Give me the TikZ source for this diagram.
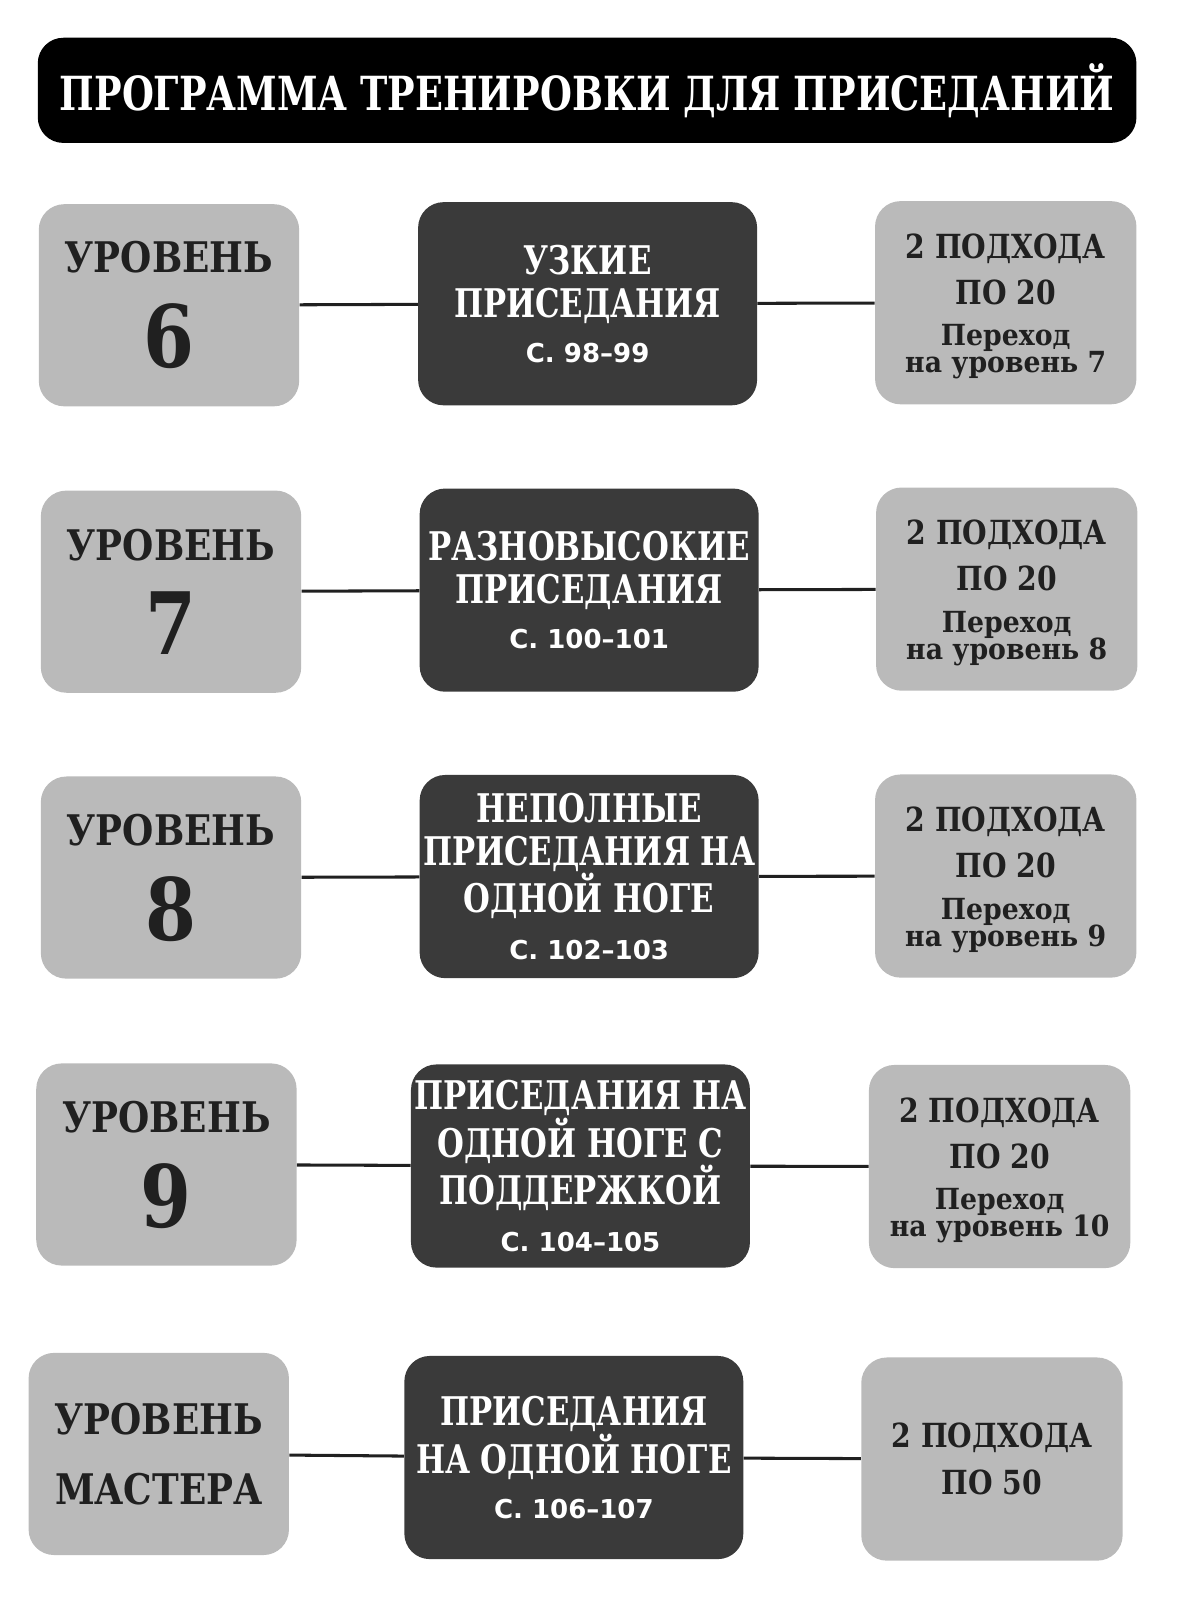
\documentclass[tikz,border=0pt]{standalone}
\usepackage{fontspec}
\setmainfont{DejaVu Serif}
\newfontfamily\stencil{DejaVu Serif}[FakeStretch=0.78]
\newfontfamily\stencilwide{DejaVu Serif}[FakeStretch=0.85]
\newfontfamily\plainserif{DejaVu Serif}[FakeStretch=0.92]
\newfontfamily\pagesans{DejaVu Sans}
\usetikzlibrary{positioning}

\definecolor{boxgray}{RGB}{186,186,186}
\definecolor{drillgray}{RGB}{58,58,58}
\definecolor{inkdark}{RGB}{32,32,32}

\newcommand{\bignum}[1]{{\fontsize{48}{48}\selectfont #1}}
\newcommand{\pages}[1]{{\pagesans\bfseries\fontsize{14.5}{14.5}\selectfont #1}}
\newcommand{\nextlvl}[1]{{\plainserif\bfseries\fontsize{16.2}{16.2}\selectfont #1}}
\newcommand{\setspad}{\rule{0pt}{18pt}}

\tikzset{
  titlebar/.style={fill=black, rounded corners=0.5cm, minimum width=21.52cm, minimum height=2.06cm,
    text=white, inner sep=0pt, font=\stencil\bfseries\fontsize{26.2}{28}\selectfont},
  levelbox/.style={fill=boxgray, rounded corners=0.5cm, minimum width=5.1cm, minimum height=3.96cm,
    align=center, text=inkdark, font=\stencilwide\bfseries\fontsize{23.5}{30}\selectfont},
  drillbox/.style={fill=drillgray, rounded corners=0.5cm, minimum width=6.64cm, minimum height=3.98cm,
    align=center, text=white, inner sep=1pt, font=\stencil\bfseries\fontsize{22}{24}\selectfont},
  setsbox/.style={fill=boxgray, rounded corners=0.5cm, minimum width=5.12cm, minimum height=3.98cm,
    align=center, text=inkdark, font=\stencilwide\bfseries\fontsize{18.5}{23}\selectfont},
  link/.style={draw=inkdark, line width=1.7pt}
}

\begin{document}
\begin{tikzpicture}
  \useasboundingbox (0,0) rectangle (23.04,31.36);

  \node[titlebar] (title) at (11.5,29.59) {ПРОГРАММА ТРЕНИРОВКИ ДЛЯ ПРИСЕДАНИЙ};

  % level 6
  \node[levelbox] (lvl6) at (3.31,25.38) {УРОВЕНЬ\\[16pt]\bignum{6}};
  \node[drillbox] (drill6) at (11.51,25.41) {УЗКИЕ\\ПРИСЕДАНИЯ\\[1pt]\pages{С. 98–99}};
  \node[setsbox] (sets6) at (19.7,25.43) {\setspad 2 ПОДХОДА\\[2.6pt]ПО 20\\\nextlvl{Переход}\\[-8pt]\nextlvl{на уровень 7}};
  \draw[link] (lvl6) -- (drill6);
  \draw[link] (drill6) -- (sets6);

  % level 7
  \node[levelbox] (lvl7) at (3.35,19.77) {УРОВЕНЬ\\[16pt]\bignum{7}};
  \node[drillbox] (drill7) at (11.54,19.80) {РАЗНОВЫСОКИЕ\\ПРИСЕДАНИЯ\\[1pt]\pages{С. 100–101}};
  \node[setsbox] (sets7) at (19.72,19.82) {\setspad 2 ПОДХОДА\\[2.6pt]ПО 20\\\nextlvl{Переход}\\[-8pt]\nextlvl{на уровень 8}};
  \draw[link] (lvl7) -- (drill7);
  \draw[link] (drill7) -- (sets7);

  % level 8
  \node[levelbox] (lvl8) at (3.35,14.17) {УРОВЕНЬ\\[16pt]\bignum{8}};
  \node[drillbox] (drill8) at (11.54,14.19) {НЕПОЛНЫЕ\\ПРИСЕДАНИЯ НА\\ОДНОЙ НОГЕ\\[2pt]\pages{С. 102–103}};
  \node[setsbox] (sets8) at (19.7,14.20) {\setspad 2 ПОДХОДА\\[2.6pt]ПО 20\\\nextlvl{Переход}\\[-8pt]\nextlvl{на уровень 9}};
  \draw[link] (lvl8) -- (drill8);
  \draw[link] (drill8) -- (sets8);

  % level 9
  \node[levelbox] (lvl9) at (3.26,8.55) {УРОВЕНЬ\\[16pt]\bignum{9}};
  \node[drillbox] (drill9) at (11.37,8.52) {ПРИСЕДАНИЯ НА\\ОДНОЙ НОГЕ С\\ПОДДЕРЖКОЙ\\[2pt]\pages{С. 104–105}};
  \node[setsbox] (sets9) at (19.58,8.51) {\setspad 2 ПОДХОДА\\[2.6pt]ПО 20\\\nextlvl{Переход}\\[-8pt]\nextlvl{на уровень 10}};
  \draw[link] (lvl9) -- (drill9);
  \draw[link] (drill9) -- (sets9);

  % master level
  \node[levelbox] (lvlm) at (3.11,2.88) {УРОВЕНЬ\\[9pt]МАСТЕРА};
  \node[drillbox] (drillm) at (11.24,2.81) {ПРИСЕДАНИЯ\\НА ОДНОЙ НОГЕ\\[1pt]\pages{С. 106–107}};
  \node[setsbox] (setsm) at (19.43,2.78) {2 ПОДХОДА\\[3pt]ПО 50};
  \draw[link] (lvlm) -- (drillm);
  \draw[link] (drillm) -- (setsm);
\end{tikzpicture}
\end{document}
